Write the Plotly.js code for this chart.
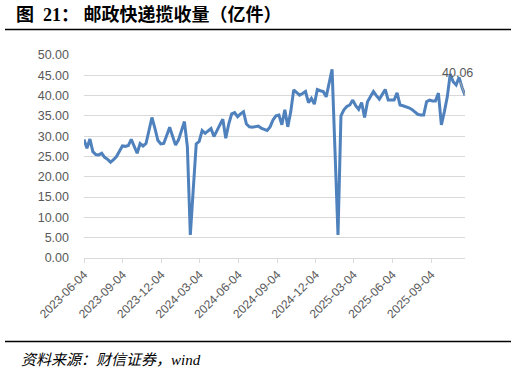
<!DOCTYPE html>
<html>
<head>
<meta charset="utf-8">
<script src="https://cdn.plot.ly/plotly-3.0.1.min.js"></script>
<style>
  html, body { margin: 0; padding: 0; background: #ffffff; }
  #chart { width: 516px; height: 373px; }
</style>
</head>
<body>
<div id="chart"></div>
<script>
// ---- Data ----
const titleText = "图\u00a0\u00a021：\u00a0邮政快递揽收量（亿件）";
const sourceText = "资料来源：财信证券，wind";
const startDate = "2023-06-04";   // first weekly observation
const values = [
  29.2, 27.0, 29.3, 26.2, 25.5, 25.4, 25.8, 24.8, 24.3, 23.6,
  24.2, 25.0, 26.3, 27.6, 27.5, 27.7, 29.2, 27.5, 25.8, 28.2,
  27.6, 28.2, 31.5, 34.6, 32.0, 29.0, 28.1, 28.2, 30.2, 32.2,
  30.0, 27.8, 29.1, 31.5, 33.6, 27.4, 5.7, 17.0, 28.1, 28.7,
  31.4, 30.7, 31.2, 31.9, 29.9, 31.5, 32.8, 34.2, 29.5, 33.0,
  35.5, 35.8, 34.8, 35.5, 36.0, 33.0, 32.3, 32.2, 32.3, 32.5,
  32.0, 31.6, 31.4, 32.3, 34.0, 35.0, 35.2, 32.8, 36.5, 32.3,
  36.0, 41.4, 40.8, 40.1, 40.5, 41.0, 38.3, 39.3, 37.9, 41.5,
  41.2, 41.0, 39.7, 43.0, 46.5, 26.0, 5.7, 35.0, 36.5, 37.3,
  37.7, 38.9, 37.5, 36.6, 38.3, 34.6, 38.5, 39.8, 41.0, 40.0,
  39.1, 40.3, 41.5, 38.9, 38.9, 38.9, 40.7, 37.7, 37.5, 37.3,
  37.0, 36.6, 36.0, 35.4, 35.2, 35.2, 38.5, 38.9, 38.7, 38.7,
  40.6, 32.8, 36.0, 39.7, 45.3, 43.4, 42.6, 44.5, 42.0, 40.06
];
const xTicks = ["2023-06-04","2023-09-04","2023-12-04","2024-03-04","2024-06-04",
                "2024-09-04","2024-12-04","2025-03-04","2025-06-04","2025-09-04"];
const yTicks = [0, 5, 10, 15, 20, 25, 30, 35, 40, 45, 50];

// weekly dates
const dates = [];
{
  const d0 = new Date(startDate + "T00:00:00Z");
  for (let i = 0; i < values.length; i++) {
    const d = new Date(d0.getTime() + i * 7 * 86400000);
    dates.push(d.toISOString().slice(0, 10));
  }
}
const lastDate = dates[dates.length - 1];
const lastVal = values[values.length - 1];

// ---- Layout helpers (pixel -> paper) ----
const W = 516, H = 373;
const L = 84, R = 465, T = 55, B = 258;
const px = X => (X - L) / (R - L);
const py = Y => (B - Y) / (B - T);

const tickFont = { family: "Liberation Sans, Arial, sans-serif", size: 12, color: "#595959" };

const trace = {
  type: "scatter",
  mode: "lines",
  x: dates,
  y: values,
  line: { color: "#4F81BD", width: 3 },
  hoverinfo: "skip"
};

const layout = {
  width: W, height: H,
  margin: { l: L, r: W - R, t: T, b: H - B, pad: 0 },
  paper_bgcolor: "#ffffff",
  plot_bgcolor: "#ffffff",
  showlegend: false,
  title: {
    text: titleText,
    font: { family: "Liberation Serif, Noto Sans CJK SC, serif", size: 18, color: "#000000", weight: "bold" },
    xref: "container", yref: "container",
    x: 16 / W, xanchor: "left",
    y: 1 - 15 / H, yanchor: "middle"
  },
  xaxis: {
    type: "date",
    range: [startDate, lastDate],
    tickmode: "array",
    tickvals: xTicks,
    ticktext: xTicks,
    tickangle: -45,
    tickfont: tickFont,
    ticks: "outside",
    ticklen: 4,
    tickcolor: "#D9D9D9",
    tickwidth: 1,
    showline: true,
    linecolor: "#D9D9D9",
    linewidth: 1,
    showgrid: false,
    zeroline: false,
    fixedrange: true
  },
  yaxis: {
    range: [0, 50],
    tickmode: "array",
    tickvals: yTicks,
    ticktext: yTicks.map(v => v.toFixed(2)),
    tickfont: Object.assign({}, tickFont, { size: 12.5 }),
    ticks: "",
    ticklabelstandoff: 14,
    showline: false,
    showgrid: true,
    gridcolor: "#D9D9D9",
    gridwidth: 1,
    zeroline: false,
    fixedrange: true
  },
  shapes: [
    { type: "line", xref: "paper", yref: "paper",
      x0: px(5), x1: px(511), y0: py(29.5), y1: py(29.5),
      line: { color: "#000000", width: 1.5 } },
    { type: "line", xref: "paper", yref: "paper",
      x0: px(5), x1: px(511), y0: py(341.5), y1: py(341.5),
      line: { color: "#000000", width: 1.5 } }
  ],
  annotations: [
    {
      x: lastDate, y: lastVal, xref: "x", yref: "y",
      text: lastVal.toFixed(2),
      showarrow: true, arrowhead: 0, arrowwidth: 1, arrowcolor: "#A6A6A6",
      ax: -8, ay: -22, standoff: 0,
      font: { family: "Liberation Sans, Arial, sans-serif", size: 12.5, color: "#595959" }
    },
    {
      xref: "paper", yref: "paper",
      x: px(19), y: py(360), xanchor: "left", yanchor: "middle",
      text: "<i>" + sourceText + "</i>",
      showarrow: false,
      font: { family: "Liberation Serif, Noto Sans CJK SC, serif", size: 15, color: "#000000" }
    }
  ]
};

Plotly.newPlot("chart", [trace], layout, { displayModeBar: false, staticPlot: true });
</script>
</body>
</html>
